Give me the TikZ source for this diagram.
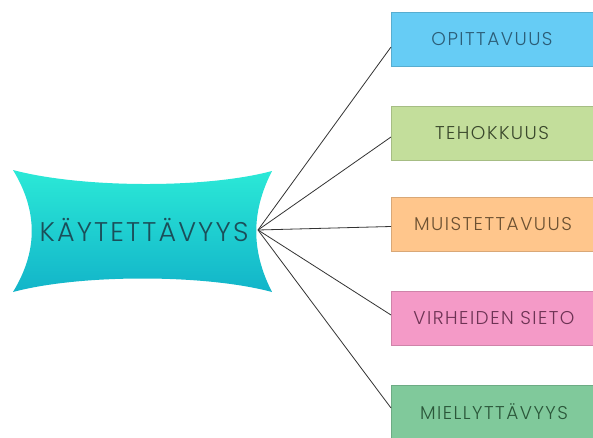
\documentclass[tikz,border=0pt]{standalone}
\usepackage{fontspec}
\setmainfont{Poppins}[UprightFont=* Light, LetterSpace=8]
\begin{document}
\begin{tikzpicture}[x=1pt,y=1pt,
  item/.style={draw=#1!85!black, fill=#1, line width=0.6pt,
    minimum width=212pt, minimum height=54pt, anchor=west, inner sep=0pt},
  itemtext/.style={font=\fontsize{18.5}{18.5}\selectfont},
  link/.style={draw=black!80, line width=0.8pt}]
\definecolor{cblue}{HTML}{66CCF5}
\definecolor{cgreen}{HTML}{C3DE9B}
\definecolor{corange}{HTML}{FFC68C}
\definecolor{cpink}{HTML}{F49AC7}
\definecolor{cmint}{HTML}{80C99B}
\definecolor{ctop}{HTML}{2BE9D7}
\definecolor{cbot}{HTML}{12B4C9}
\definecolor{tmain}{HTML}{1B4E59}
\definecolor{tblue}{HTML}{2C5D77}
\definecolor{tgreen}{HTML}{3A482C}
\definecolor{torange}{HTML}{6C5132}
\definecolor{tpink}{HTML}{6D3354}
\definecolor{tmint}{HTML}{2B573A}
\useasboundingbox (0,0) rectangle (593,437);
\clip (0,0) rectangle (593,437);
\fill[white] (0,0) rectangle (593,437);

% central concave banner
\shade[top color=ctop, bottom color=cbot]
  (13,267) .. controls (80,249) and (205,248) .. (272,266)
  .. controls (251,225) and (251,186) .. (272,145)
  .. controls (205,163) and (80,163) .. (13,145)
  .. controls (38,186) and (38,226) .. cycle;
\node[text=tmain, font=\fontsize{27}{27}\selectfont] (main) at (144,207) {KÄYTETTÄVYYS};
\coordinate (hub) at (258,207);

% attribute boxes
\node[item=cblue]   (b1) at (391,398) {};
\node[item=cgreen]  (b2) at (391,304) {};
\node[item=corange] (b3) at (391,212.5) {};
\node[item=cpink]   (b4) at (391,119) {};
\node[item=cmint]   (b5) at (391,25) {};

\node[itemtext, text=tblue]   at (492,398) {OPITTAVUUS};
\node[itemtext, text=tgreen]  at (492,304) {TEHOKKUUS};
\node[itemtext, text=torange] at (493,212.5) {MUISTETTAVUUS};
\node[itemtext, text=tpink]   at (494,119) {VIRHEIDEN SIETO};
\node[itemtext, text=tmint]   at (494,25) {MIELLYTTÄVYYS};

% connectors
\draw[link] (hub) -- ([yshift=-8pt]b1.west);
\draw[link] (hub) -- ([yshift=-4pt]b2.west);
\draw[link] (hub) -- ([yshift=-2pt]b3.west);
\draw[link] (hub) -- ([yshift=3pt]b4.west);
\draw[link] (hub) -- ([yshift=4pt]b5.west);
\end{tikzpicture}
\end{document}
